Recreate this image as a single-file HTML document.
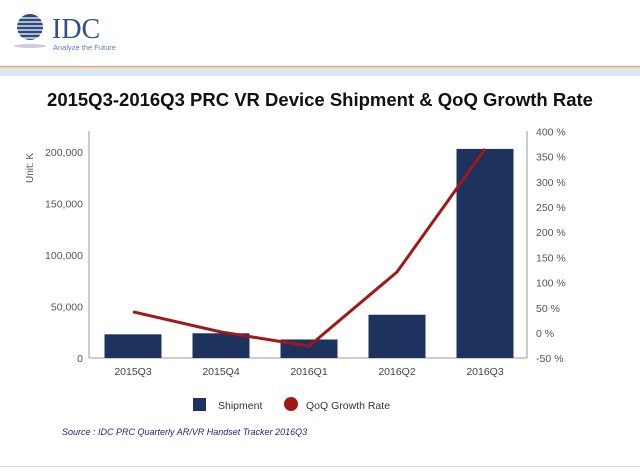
<!DOCTYPE html>
<html><head><meta charset="utf-8"><style>
body{margin:0;width:640px;height:471px;background:#fff;overflow:hidden;font-family:"Liberation Sans",sans-serif;position:relative}
</style></head><body>
<svg width="640" height="471" style="position:absolute;left:0;top:0">
<g>
  <circle cx="30" cy="27" r="13" fill="#2c4a7e"/>
  <g stroke="#fff" stroke-width="1.2">
    <line x1="10" y1="18" x2="50" y2="18"/><line x1="10" y1="22" x2="50" y2="22"/><line x1="10" y1="26" x2="50" y2="26"/><line x1="10" y1="30" x2="50" y2="30"/><line x1="10" y1="34" x2="50" y2="34"/><line x1="10" y1="38" x2="50" y2="38"/>
  </g>
  <ellipse cx="30" cy="46" rx="16" ry="2" fill="#ccd"/>
  <text x="52" y="38" font-family="Liberation Serif" font-size="28" fill="#2f4f8f">IDC</text>
  <text x="53" y="50" font-size="7.5" fill="#5b7fbf">Analyze the Future</text>
</g>
<rect x="0" y="66" width="640" height="1.5" fill="#e8a457"/>
<rect x="0" y="68" width="640" height="8" fill="#d8e8f3"/>
<text x="320" y="106" text-anchor="middle" font-size="18.5" font-weight="bold" fill="#111">2015Q3-2016Q3 PRC VR Device Shipment &amp; QoQ Growth Rate</text>
<text transform="translate(33,168) rotate(-90)" text-anchor="middle" font-size="10" fill="#555">Unit: K</text>
<g id="g"></g>
<g>
  <rect x="193" y="398" width="13" height="13" fill="#1e325e"/>
  <text x="218" y="409" font-size="10.5" fill="#333">Shipment</text>
  <circle cx="291" cy="404" r="7" fill="#a01818"/>
  <text x="306" y="409" font-size="10.5" fill="#333">QoQ Growth Rate</text>
</g>
<text x="62" y="435" font-size="9" font-style="italic" fill="#1a2a6c">Source : IDC PRC Quarterly AR/VR Handset Tracker 2016Q3</text>
<rect x="0" y="466" width="640" height="1" fill="#ddd"/>
</svg>
<script>
const categories=["2015Q3","2015Q4","2016Q1","2016Q2","2016Q3"];
const shipment=[23000,24000,18000,42000,203000];
const growth=[42,2,-26,121,365];
const leftTicks=[0,50000,100000,150000,200000];
const leftTickLabels=["0","50,000","100,000","150,000","200,000"];
const rightTicks=[-50,0,50,100,150,200,250,300,350,400];
const NS="http://www.w3.org/2000/svg";
const g=document.getElementById('g');
const yL=v=>358-v/200000*206;
const yR=v=>333-v/50*25.2;
const xC=i=>133+i*88;
function mk(t,a){const e=document.createElementNS(NS,t);for(const k in a)e.setAttribute(k,a[k]);g.appendChild(e);return e;}
const ax1=mk('line',{x1:89,y1:131,x2:89,y2:358,stroke:'#999'});


const ax2=mk('line',{x1:527,y1:131,x2:527,y2:358,stroke:'#999'});


const ax3=mk('line',{x1:89,y1:358,x2:527,y2:358,stroke:'#999'});


leftTicks.forEach((v,i)=>{const t=mk('text',{x:83,y:yL(v)+4,'text-anchor':'end','font-size':10.5,fill:'#555'});t.textContent=leftTickLabels[i];

});
rightTicks.forEach(v=>{const t=mk('text',{x:536,y:yR(v)+4,'font-size':10.5,fill:'#555'});t.textContent=v+' %';

});
categories.forEach((c,i)=>{
const b=mk('rect',{x:xC(i)-28.5,y:yL(shipment[i]),width:57,height:358-yL(shipment[i]),fill:'#1e325e'});


const t=mk('text',{x:xC(i),y:375,'text-anchor':'middle','font-size':10.5,fill:'#444'});t.textContent=c;

});
const l=mk('polyline',{points:growth.map((v,i)=>xC(i)+','+yR(v)).join(' '),fill:'none',stroke:'#a01818','stroke-width':3,'stroke-linejoin':'round'});


</script>
</body></html>
